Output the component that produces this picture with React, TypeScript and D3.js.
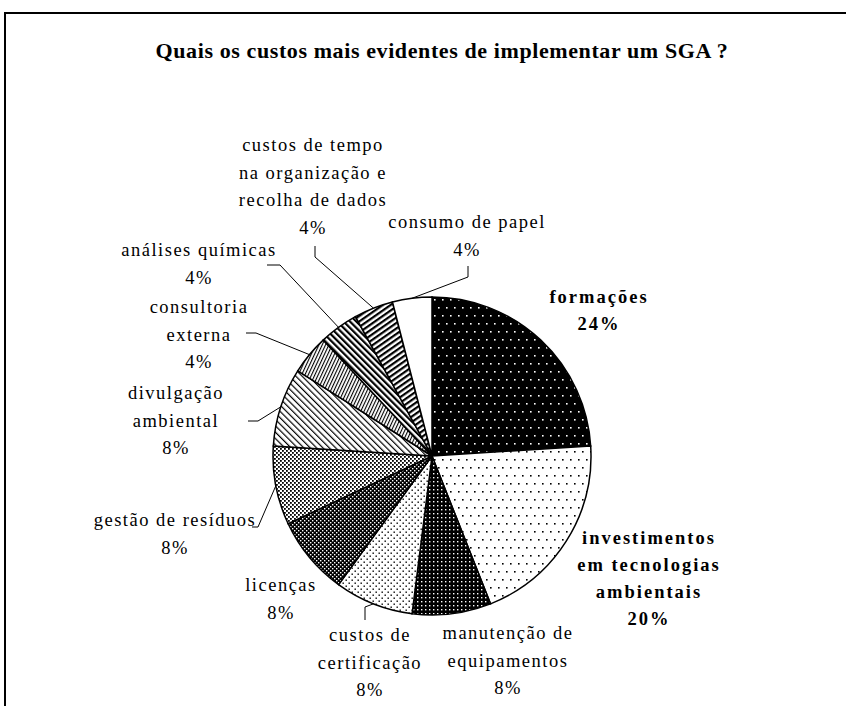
import React from 'react';
import * as d3 from 'd3';

// categories, clockwise from 12 o'clock
const categories = [
  'formações',
  'investimentos em tecnologias ambientais',
  'manutenção de equipamentos',
  'custos de certificação',
  'licenças',
  'gestão de resíduos',
  'divulgação ambiental',
  'consultoria externa',
  'análises químicas',
  'custos de tempo na organização e recolha de dados',
  'consumo de papel',
];
const values = [24, 20, 8, 8, 8, 8, 8, 4, 4, 4, 4];
const labelLines = [
  ['formações'],
  ['investimentos', 'em tecnologias', 'ambientais'],
  ['manutenção de', 'equipamentos'],
  ['custos de', 'certificação'],
  ['licenças'],
  ['gestão de resíduos'],
  ['divulgação', 'ambiental'],
  ['consultoria', 'externa'],
  ['análises químicas'],
  ['custos de tempo', 'na organização e', 'recolha de dados'],
  ['consumo de papel'],
];
const title = 'Quais os custos mais evidentes de implementar um SGA ?';

const W = 846;
const H = 706;
const cx = 432;
const cy = 456;
const r = 159;

// label placement: centre x, first line centre y, bold, leader (label side points)
const layout = [
  { x: 599, y: 297, bold: true, leader: null },
  { x: 649, y: 538, bold: true, leader: null },
  { x: 508, y: 633, bold: false, leader: null },
  { x: 370, y: 635, bold: false, leader: [[365, 620], [365, 607]] },
  { x: 281, y: 585, bold: false, leader: null },
  { x: 175, y: 520, bold: false, leader: [[252, 527], [258, 527]] },
  { x: 176, y: 393, bold: false, leader: [[248, 421], [258, 421]] },
  { x: 199, y: 307, bold: false, leader: [[246, 333], [256, 333]] },
  { x: 199, y: 250, bold: false, leader: [[267, 265], [280, 265]] },
  { x: 313, y: 145, bold: false, leader: [[315, 246], [315, 257]] },
  { x: 467, y: 222, bold: false, leader: [[468, 266], [468, 277]] },
];

const fills = [
  'url(#pFormacoes)',
  'url(#pInvest)',
  'url(#pManut)',
  'url(#pCert)',
  'url(#pLic)',
  'url(#pGestao)',
  'url(#pDivulg)',
  'url(#pConsult)',
  'url(#pAnalises)',
  'url(#pTempo)',
  '#fff',
];

const lineH = 27.5;

export default function App() {
  const pie = d3.pie<number>().sort(null).value(d => d);
  const arcs = pie(values);
  const arcGen = d3.arc<d3.PieArcDatum<number>>().innerRadius(0).outerRadius(r);
  const edge = d3.arc<d3.PieArcDatum<number>>().innerRadius(r).outerRadius(r);
  const line = d3.line();

  return (
    <svg width={W} height={H} style={{ position: 'absolute', left: 0, top: 0, background: '#fff' }}
      fontFamily="'Liberation Serif', 'Times New Roman', serif">
      <defs>
        <pattern id="pFormacoes" width="8" height="16" patternUnits="userSpaceOnUse">
          <rect width="8" height="16" fill="#000" />
          <rect x="2" y="3" width="1.6" height="1.6" fill="#fff" />
          <rect x="6" y="11" width="1.6" height="1.6" fill="#fff" />
        </pattern>
        <pattern id="pInvest" width="8" height="16" patternUnits="userSpaceOnUse">
          <rect width="8" height="16" fill="#fff" />
          <rect x="2" y="3" width="1.6" height="1.6" fill="#000" />
          <rect x="6" y="11" width="1.6" height="1.6" fill="#000" />
        </pattern>
        <pattern id="pManut" width="4" height="4" patternUnits="userSpaceOnUse">
          <rect width="4" height="4" fill="#000" />
          <rect x="1" y="1" width="1.4" height="1.4" fill="#fff" />
        </pattern>
        <pattern id="pCert" width="6" height="6" patternUnits="userSpaceOnUse">
          <rect width="6" height="6" fill="#fff" />
          <rect x="0.5" y="0.5" width="1.4" height="1.4" fill="#000" />
          <rect x="3.5" y="3.5" width="1.4" height="1.4" fill="#000" />
        </pattern>
        <pattern id="pLic" width="4" height="4" patternUnits="userSpaceOnUse">
          <rect width="4" height="4" fill="#000" />
          <rect x="0" y="0" width="1.4" height="1.4" fill="#fff" />
          <rect x="2" y="2" width="1.4" height="1.4" fill="#fff" />
        </pattern>
        <pattern id="pGestao" width="4" height="4" patternUnits="userSpaceOnUse">
          <rect width="4" height="4" fill="#fff" />
          <rect x="0" y="0" width="1.8" height="1.8" fill="#000" />
          <rect x="2" y="2" width="1.8" height="1.8" fill="#000" />
        </pattern>
        <pattern id="pDivulg" width="4.5" height="4.5" patternUnits="userSpaceOnUse" patternTransform="rotate(-45)">
          <rect width="4.5" height="4.5" fill="#fff" />
          <rect x="0" y="0" width="1.2" height="4.5" fill="#000" />
        </pattern>
        <pattern id="pConsult" width="3" height="3" patternUnits="userSpaceOnUse" patternTransform="rotate(25)">
          <rect width="3" height="3" fill="#fff" />
          <rect x="0" y="0" width="1.1" height="3" fill="#000" />
        </pattern>
        <pattern id="pAnalises" width="4.5" height="4.5" patternUnits="userSpaceOnUse" patternTransform="rotate(-45)">
          <rect width="4.5" height="4.5" fill="#fff" />
          <rect x="0" y="0" width="2.2" height="4.5" fill="#000" />
        </pattern>
        <pattern id="pTempo" width="4.5" height="4.5" patternUnits="userSpaceOnUse" patternTransform="rotate(55)">
          <rect width="4.5" height="4.5" fill="#fff" />
          <rect x="0" y="0" width="2.2" height="4.5" fill="#000" />
        </pattern>
      </defs>

      <rect x={5} y={13} width={W + 20} height={H + 20} fill="#fff" stroke="#000" strokeWidth={2} />

      <text x={442} y={58} textAnchor="middle" fontWeight="bold" fontSize={22} letterSpacing={0.6}>{title}</text>

      <g transform={`translate(${cx},${cy})`}>
        {arcs.map((a, i) => (
          <path key={categories[i]} d={arcGen(a) || ''} fill={fills[i]} stroke="#000" strokeWidth={1.5} />
        ))}
      </g>

      {arcs.map((a, i) => {
        const L = layout[i];
        if (!L.leader) return null;
        const [ex, ey] = edge.centroid(a);
        const pts = [...L.leader, [cx + ex, cy + ey]] as [number, number][];
        return <path key={'l' + i} d={line(pts) || ''} fill="none" stroke="#000" strokeWidth={1} />;
      })}

      {arcs.map((a, i) => {
        const L = layout[i];
        const lines = [...labelLines[i], percentText(values[i])];
        return (
          <text key={'t' + i} textAnchor="middle" fontSize={18.5}
            fontWeight={L.bold ? 'bold' : 'normal'} letterSpacing={L.bold ? 2 : 1.5}>
            {lines.map((s, j) => (
              <tspan key={j} x={L.x} y={L.y + j * (L.bold ? 27 : lineH) + 6}>{s}</tspan>
            ))}
          </text>
        );
      })}
    </svg>
  );
}

function percentText(v: number) {
  return `${v}%`;
}
